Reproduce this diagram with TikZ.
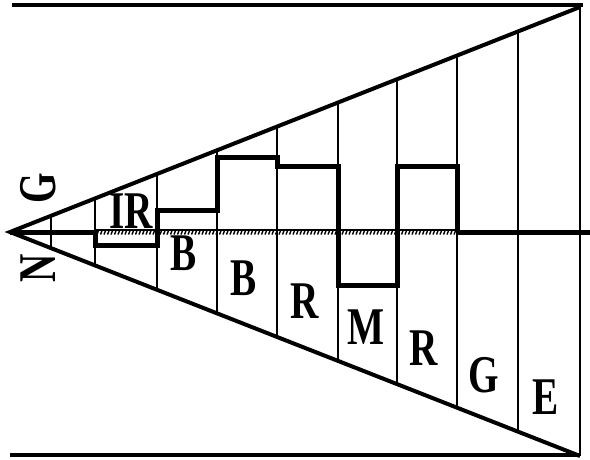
\documentclass[tikz,border=0pt]{standalone}
\usepackage{fontspec}
\setmainfont{Liberation Serif}
\newfontfamily\capfont{Liberation Serif}[FakeStretch=0.74]
\usetikzlibrary{calc}
\tikzset{
  rim/.style={line width=4pt},
  divider/.style={line width=1.8pt},
  band/.style={line width=5pt, line join=miter},
  hatch/.style={line width=1.4pt},
  letter/.style={font=\capfont\bfseries\fontsize{53}{53}\selectfont, inner sep=0pt},
}

\begin{document}
\begin{tikzpicture}[x=1pt, y=-1pt]
  \useasboundingbox (0,0) rectangle (590,459);
  % frame and wedge
  \coordinate (apex) at (10,232);
  \coordinate (tr) at (580,7);
  \coordinate (br) at (580,456);
  \draw[rim] (12,5) -- (583,5);
  \draw[rim] (10,455) -- (580,455);
  \draw[rim] (tr) -- (apex) -- (br);
  \draw[divider] (tr) -- (br);
  % cells
  \foreach \x in {51,95,157,217,277,338,397,457,518} {
    \pgfmathsetmacro\h{(\x-10)/570*224.5}
    \draw[divider] (\x,232-\h) -- (\x,232+\h);
  }
  % axis
  \draw[band] (apex) -- (95,232);
  \draw[band] (457,232) -- (590,232);
  \draw[hatch] (95,230) -- (457,230);
  \foreach \x in {97,100.5,...,455} \draw[hatch] (\x,234.5) -- ++(1.8,-4.5);
  % steps
  \draw[band] (95,230) -- (95,245) -- (157,245) -- (157,210) -- (217,210)
    -- (217,157) -- (277,157) -- (277,166) -- (338,166) -- (338,285)
    -- (397,285) -- (397,166) -- (457,166) -- (457,232);
  % labels
  \node[letter] (ir) at (131,211) {IR};
  \node[letter] (b1) at (184,253) {B};
  \node[letter] (b2) at (244,278) {B};
  \node[letter] (r1) at (305,301) {R};
  \node[letter] (m) at (366,327) {M};
  \node[letter] (r2) at (424,348) {R};
  \node[letter] (g) at (484,375) {G};
  \node[letter] (e) at (546,397) {E};
  \node[letter, rotate=90] (n) at (38,268) {N};
  \node[letter, rotate=90] (gl) at (38,188) {G};
\end{tikzpicture}
\end{document}
